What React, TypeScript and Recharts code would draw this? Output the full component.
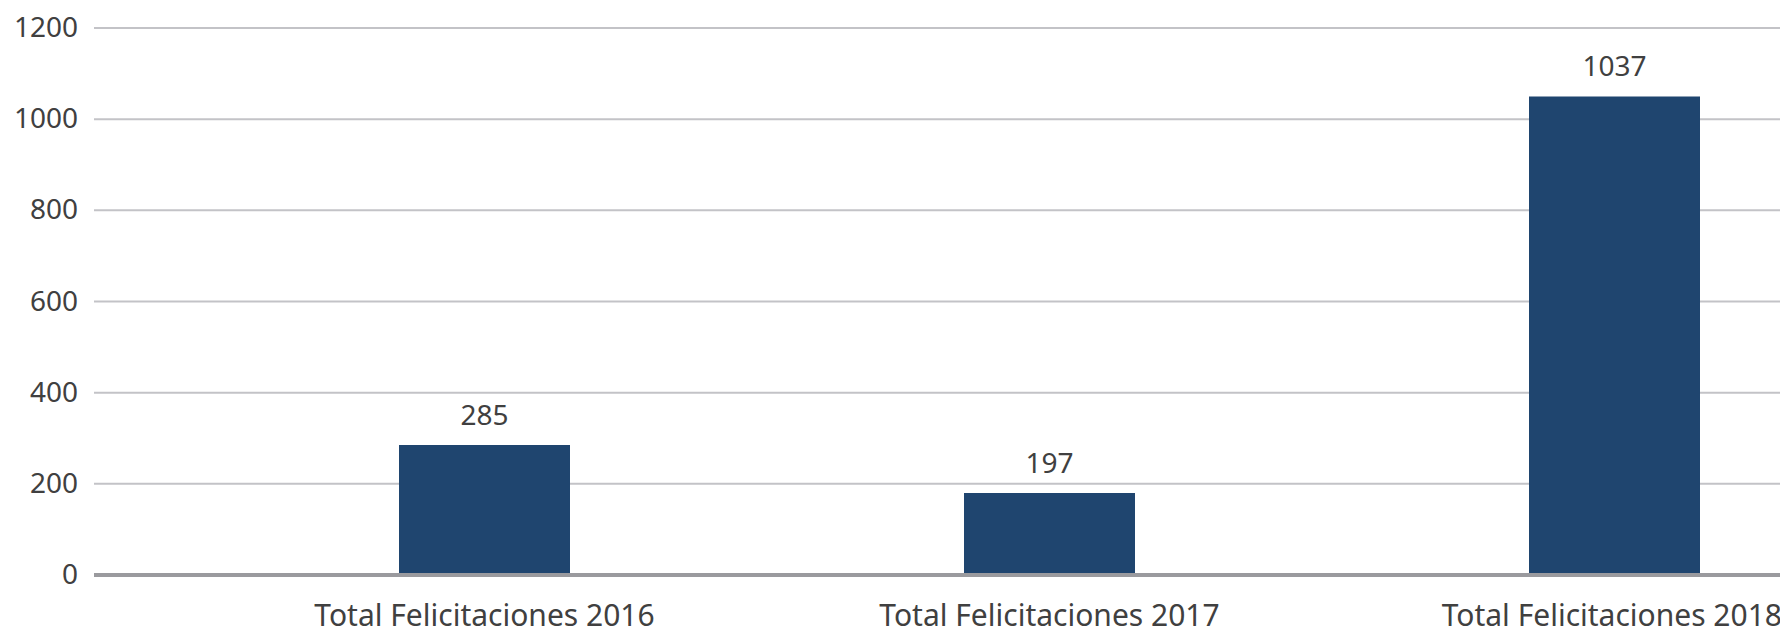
import React from "react";
import { BarChart, Bar, XAxis, YAxis, CartesianGrid, LabelList, ReferenceLine } from "recharts";

if (typeof document !== "undefined") {
  document.body.style.overflow = "hidden";
}

const categories = ["Total Felicitaciones 2016", "Total Felicitaciones 2017", "Total Felicitaciones 2018"];
const barValues = [285, 180, 1050];
const valueLabels = ["285", "197", "1037"];
const yTicks = [0, 200, 400, 600, 800, 1000, 1200];

const data = categories.map((c, i) => ({ name: c, value: barValues[i], label: valueLabels[i] }));

const FONT = "'Noto Sans', sans-serif";
const TEXT = "#404040";
const VISIBLE_RIGHT = 1774;
const XLABEL_HALF = 170;

const YTick = (props: any) => {
  const { x, y, payload } = props;
  return (
    <text x={x - 8} y={y - 2} textAnchor="end" dominantBaseline="central" fontFamily={FONT} fontSize={28} fill={TEXT}>
      {payload.value}
    </text>
  );
};

const XTick = (props: any) => {
  const { x, y, payload } = props;
  const overflow = x + XLABEL_HALF > VISIBLE_RIGHT;
  return (
    <text
      x={overflow ? VISIBLE_RIGHT : x}
      y={y + 31}
      textAnchor={overflow ? "end" : "middle"}
      dominantBaseline="central"
      fontFamily={FONT}
      fontSize={30}
      fill={TEXT}
    >
      {payload.value}
    </text>
  );
};

const ValueLabel = (props: any) => {
  const { x, y, width, value } = props;
  return (
    <text x={x + width / 2} y={y - 31} textAnchor="middle" dominantBaseline="central" fontFamily={FONT} fontSize={28} fill={TEXT}>
      {value}
    </text>
  );
};

export default function App() {
  return (
    <div style={{ width: 1780, height: 625, overflow: "hidden" }}>
      <BarChart width={1890} height={625} data={data} margin={{ top: 20, right: 1, bottom: 0, left: 0 }}>
        <CartesianGrid vertical={false} stroke="#c3c3c7" strokeWidth={2} />
        <XAxis
          dataKey="name"
          axisLine={false}
          tickLine={false}
          tick={<XTick />}
          padding={{ left: 108, right: 0 }}
          height={58}
          interval={0}
        />
        <YAxis
          domain={[0, 1200]}
          ticks={yTicks}
          axisLine={false}
          tickLine={false}
          tick={<YTick />}
          width={86}
          interval={0}
        />
        <Bar dataKey="value" fill="#1f456f" barSize={171} isAnimationActive={false}>
          <LabelList dataKey="label" content={<ValueLabel />} />
        </Bar>
        <ReferenceLine y={0} stroke="#9a9a9e" strokeWidth={4} />
      </BarChart>
    </div>
  );
}
